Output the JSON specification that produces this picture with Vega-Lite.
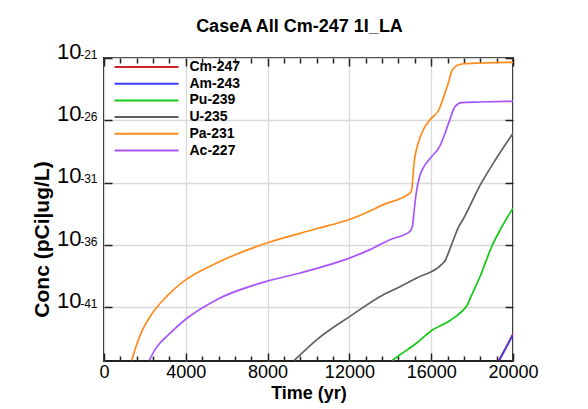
{
  "$schema": "https://vega.github.io/schema/vega-lite/v6.json",
  "width": 409,
  "height": 303,
  "autosize": {"type": "none"},
  "padding": {"left": 104, "top": 58, "right": 75, "bottom": 48},
  "background": "white",
  "title": {"text": "CaseA All Cm-247 1I_LA", "font": "Liberation Sans", "fontSize": 18, "fontWeight": "bold", "color": "black", "anchor": "middle", "frame": "group", "baseline": "alphabetic", "offset": -10, "dx": -9},
  "config": {
    "view": {"stroke": "#222", "strokeWidth": 2},
    "axis": {"labelFont": "Liberation Sans", "titleFont": "Liberation Sans", "labelColor": "black", "titleColor": "black", "tickColor": "#222", "domain": false, "labelFlush": false, "labelOverlap": false, "labelBound": false, "gridColor": "#d9d9d9", "gridWidth": 1.3, "tickWidth": 1.5}
  },
  "data": {"values": [
    {"s": "Cm-247", "t": 19300, "c": 5.62e-46},
    {"s": "Cm-247", "t": 19640, "c": 5.62e-45},
    {"s": "Cm-247", "t": 20000, "c": 7.94e-44},
    {"s": "Am-243", "t": 19335, "c": 5.62e-46},
    {"s": "Am-243", "t": 19660, "c": 5.62e-45},
    {"s": "Am-243", "t": 20000, "c": 6.31e-44},
    {"s": "Pu-239", "t": 14098, "c": 5.62e-46},
    {"s": "Pu-239", "t": 14475, "c": 1.58e-45},
    {"s": "Pu-239", "t": 15290, "c": 1.38e-44},
    {"s": "Pu-239", "t": 15941, "c": 1.12e-43},
    {"s": "Pu-239", "t": 16920, "c": 8.91e-43},
    {"s": "Pu-239", "t": 17573, "c": 6.31e-42},
    {"s": "Pu-239", "t": 17750, "c": 1.41e-41},
    {"s": "Pu-239", "t": 17900, "c": 5.01e-41},
    {"s": "Pu-239", "t": 18394, "c": 3.16e-39},
    {"s": "Pu-239", "t": 18965, "c": 7.94e-37},
    {"s": "Pu-239", "t": 19365, "c": 1.58e-35},
    {"s": "Pu-239", "t": 20000, "c": 8.91e-34},
    {"s": "U-235", "t": 9306, "c": 5.62e-46},
    {"s": "U-235", "t": 10399, "c": 2.51e-44},
    {"s": "U-235", "t": 12029, "c": 1.91e-42},
    {"s": "U-235", "t": 13660, "c": 1.05e-40},
    {"s": "U-235", "t": 14475, "c": 4.47e-40},
    {"s": "U-235", "t": 15290, "c": 2.29e-39},
    {"s": "U-235", "t": 16514, "c": 2.82e-38},
    {"s": "U-235", "t": 16700, "c": 6.31e-38},
    {"s": "U-235", "t": 16836, "c": 2.24e-37},
    {"s": "U-235", "t": 17080, "c": 2.51e-36},
    {"s": "U-235", "t": 17326, "c": 2.51e-35},
    {"s": "U-235", "t": 17573, "c": 1.26e-34},
    {"s": "U-235", "t": 18394, "c": 6.31e-32},
    {"s": "U-235", "t": 19128, "c": 6.31e-30},
    {"s": "U-235", "t": 19937, "c": 6.31e-28},
    {"s": "U-235", "t": 20000, "c": 8.91e-28},
    {"s": "Pa-231", "t": 1353, "c": 5.62e-46},
    {"s": "Pa-231", "t": 1597, "c": 1.02e-44},
    {"s": "Pa-231", "t": 1842, "c": 1.12e-43},
    {"s": "Pa-231", "t": 2249, "c": 1.78e-42},
    {"s": "Pa-231", "t": 3066, "c": 7.59e-41},
    {"s": "Pa-231", "t": 4010, "c": 1.66e-39},
    {"s": "Pa-231", "t": 5509, "c": 3.63e-38},
    {"s": "Pa-231", "t": 7954, "c": 1.45e-36},
    {"s": "Pa-231", "t": 10399, "c": 2.0e-35},
    {"s": "Pa-231", "t": 11964, "c": 1.07e-34},
    {"s": "Pa-231", "t": 12681, "c": 3.09e-34},
    {"s": "Pa-231", "t": 13660, "c": 1.74e-33},
    {"s": "Pa-231", "t": 14990, "c": 1.58e-32},
    {"s": "Pa-231", "t": 15060, "c": 3.98e-32},
    {"s": "Pa-231", "t": 15100, "c": 2.51e-31},
    {"s": "Pa-231", "t": 15140, "c": 1.58e-30},
    {"s": "Pa-231", "t": 15210, "c": 1.26e-29},
    {"s": "Pa-231", "t": 15370, "c": 1.58e-28},
    {"s": "Pa-231", "t": 15615, "c": 1.78e-27},
    {"s": "Pa-231", "t": 15941, "c": 1.12e-26},
    {"s": "Pa-231", "t": 16396, "c": 8.13e-26},
    {"s": "Pa-231", "t": 16592, "c": 6.31e-25},
    {"s": "Pa-231", "t": 16836, "c": 1.0e-23},
    {"s": "Pa-231", "t": 17002, "c": 8.51e-23},
    {"s": "Pa-231", "t": 17247, "c": 2.4e-22},
    {"s": "Pa-231", "t": 17573, "c": 3.47e-22},
    {"s": "Pa-231", "t": 18394, "c": 3.98e-22},
    {"s": "Pa-231", "t": 20000, "c": 4.47e-22},
    {"s": "Ac-227", "t": 2216, "c": 5.62e-46},
    {"s": "Ac-227", "t": 2494, "c": 4.07e-45},
    {"s": "Ac-227", "t": 2738, "c": 1.38e-44},
    {"s": "Ac-227", "t": 3066, "c": 4.68e-44},
    {"s": "Ac-227", "t": 4010, "c": 1.17e-42},
    {"s": "Ac-227", "t": 5509, "c": 4.17e-41},
    {"s": "Ac-227", "t": 7954, "c": 1.23e-39},
    {"s": "Ac-227", "t": 9584, "c": 5.75e-39},
    {"s": "Ac-227", "t": 11964, "c": 8.51e-38},
    {"s": "Ac-227", "t": 13007, "c": 4.27e-37},
    {"s": "Ac-227", "t": 13985, "c": 2.69e-36},
    {"s": "Ac-227", "t": 14963, "c": 1.26e-35},
    {"s": "Ac-227", "t": 15080, "c": 3.16e-35},
    {"s": "Ac-227", "t": 15150, "c": 3.16e-34},
    {"s": "Ac-227", "t": 15210, "c": 2.51e-33},
    {"s": "Ac-227", "t": 15300, "c": 3.16e-32},
    {"s": "Ac-227", "t": 15452, "c": 3.98e-31},
    {"s": "Ac-227", "t": 15615, "c": 1.58e-30},
    {"s": "Ac-227", "t": 16026, "c": 1.26e-29},
    {"s": "Ac-227", "t": 16396, "c": 7.08e-29},
    {"s": "Ac-227", "t": 16675, "c": 8.91e-28},
    {"s": "Ac-227", "t": 16920, "c": 1.26e-26},
    {"s": "Ac-227", "t": 17164, "c": 1.26e-25},
    {"s": "Ac-227", "t": 17491, "c": 2.63e-25},
    {"s": "Ac-227", "t": 18394, "c": 2.95e-25},
    {"s": "Ac-227", "t": 20000, "c": 3.39e-25}
  ]},
  "resolve": {"axis": {"x": "independent", "y": "independent"}},
  "layer": [
    {
      "mark": {"type": "line", "clip": true, "strokeWidth": 1.7, "interpolate": "monotone"},
      "encoding": {
        "x": {"field": "t", "type": "quantitative", "scale": {"domain": [0, 20000], "nice": false, "zero": false},
          "axis": {"orient": "bottom", "values": [0, 4000, 8000, 12000, 16000, 20000], "format": "d", "grid": true, "tickSize": -8, "labelFontSize": 18, "labelPadding": 10, "title": "Time (yr)", "titleFontSize": 18, "titleFontWeight": "bold", "titlePadding": 3}},
        "y": {"field": "c", "type": "quantitative", "scale": {"type": "log", "domain": [5e-46, 1e-21], "nice": false},
          "axis": {"orient": "left", "values": [1e-21, 1e-26, 1e-31, 1e-36, 1e-41], "labelExpr": "'10'", "grid": true, "tickSize": -8, "labelFontSize": 22, "labelPadding": 31, "labelBaseline": "alphabetic", "labelDy": 10, "title": "Conc (pCi|ug/L)", "titleFontSize": 21, "titleFontWeight": "bold", "titleY": 181, "titlePadding": 4}},
        "color": {"field": "s", "type": "nominal",
          "scale": {"domain": ["Cm-247", "Am-243", "Pu-239", "U-235", "Pa-231", "Ac-227"], "range": ["#d0202a", "#3c3cff", "#14c814", "#606060", "#ff8c1a", "#a855ff"]},
          "legend": {"orient": "none", "legendX": 62.5, "legendY": 2, "title": null, "padding": 0, "symbolType": "M-11.8,0H1", "symbolSize": 100, "symbolStrokeWidth": 2, "labelFont": "Liberation Sans", "labelFontSize": 14, "labelFontWeight": "bold", "labelColor": "black", "labelOffset": 9, "rowPadding": 2.7}}
      }
    },
    {
      "mark": {"type": "line", "opacity": 0},
      "encoding": {
        "x": {"field": "t", "type": "quantitative", "axis": {"orient": "top", "values": [0, 4000, 8000, 12000, 16000, 20000], "grid": false, "labels": false, "tickSize": -8, "title": null}},
        "y": {"field": "c", "type": "quantitative", "scale": {"type": "log"}, "axis": {"orient": "right", "values": [1e-21, 1e-26, 1e-31, 1e-36, 1e-41], "grid": false, "labels": false, "tickSize": -8, "title": null}}
      }
    },
    {
      "mark": {"type": "line", "opacity": 0},
      "encoding": {
        "x": {"field": "t", "type": "quantitative", "axis": {"orient": "bottom", "values": [800, 1600, 2400, 3200, 4800, 5600, 6400, 7200, 8800, 9600, 10400, 11200, 12800, 13600, 14400, 15200, 16800, 17600, 18400, 19200], "grid": false, "labels": false, "tickSize": -5, "title": null}},
        "y": {"field": "c", "type": "quantitative", "scale": {"type": "log"}, "axis": {"orient": "left", "values": [1e-21, 1e-26, 1e-31, 1e-36, 1e-41], "labelExpr": "'' + round(log(datum.value) / LN10)", "grid": false, "ticks": false, "labelFontSize": 12, "labelPadding": 7, "labelBaseline": "alphabetic", "labelDy": -4, "title": null}}
      }
    },
    {
      "mark": {"type": "line", "opacity": 0},
      "encoding": {
        "x": {"field": "t", "type": "quantitative", "axis": {"orient": "top", "values": [800, 1600, 2400, 3200, 4800, 5600, 6400, 7200, 8800, 9600, 10400, 11200, 12800, 13600, 14400, 15200, 16800, 17600, 18400, 19200], "grid": false, "labels": false, "tickSize": -5, "title": null}},
        "y": {"field": "c", "type": "quantitative", "scale": {"type": "log"}, "axis": null}
      }
    }
  ]
}
